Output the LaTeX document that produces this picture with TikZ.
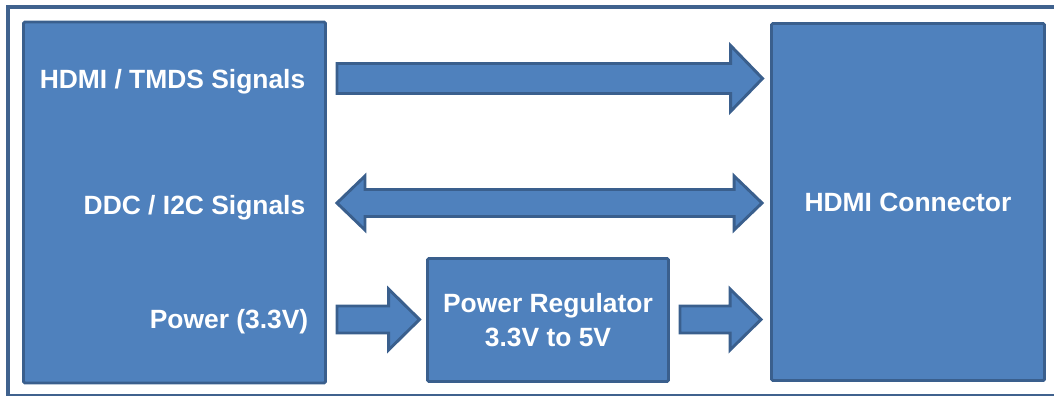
\documentclass[tikz,border=0pt]{standalone}
\usepackage{fontspec}
\setmainfont{Liberation Sans}
\usepackage{tikz}
\usetikzlibrary{calc,positioning}
\definecolor{boxblue}{HTML}{4F81BD}
\definecolor{edgeblue}{HTML}{3A5F8D}
\definecolor{framec}{HTML}{40628E}
\tikzset{
  blk/.style={draw=edgeblue,fill=boxblue,line width=2.2pt,rounded corners=1pt,inner sep=0pt},
  fat/.style={draw=edgeblue,fill=boxblue,line width=2.2pt,line join=miter},
  frame/.style={draw=framec,line width=2.8pt},
  lbl/.style={text=white,font=\fontsize{19.8}{25.5}\selectfont\bfseries},
}

\begin{document}
\begin{tikzpicture}[x=0.75pt,y=-0.75pt]
  \useasboundingbox (0,0) rectangle (1054,396);
  % ---------- frame ----------
  \draw[frame] (8,7) rectangle (1080,395.5);
  % ---------- blocks ----------
  \node[blk,minimum width=226.5pt,minimum height=270.75pt] (src) at (174.5,202.5) {};
  \node[blk,lbl,minimum width=204.75pt,minimum height=267.75pt] (hdmi) at (908,202) {HDMI Connector};
  \node[blk,lbl,align=center,minimum width=180.75pt,minimum height=92.25pt] (reg) at (548,320) {Power Regulator\\3.3V to 5V};
  % ---------- signal rows ----------
  \coordinate (rowa) at (0,78.5);
  \coordinate (rowb) at (0,203);
  \coordinate (rowc) at (0,319.5);
  \node[lbl,anchor=base east] (tmds) at ($(src.east |- rowa)+(-17,10)$) {HDMI / TMDS Signals};
  \node[lbl,anchor=base east] (ddc) at ($(src.east |- rowb)+(-17,11)$) {DDC / I2C Signals};
  \node[lbl,anchor=base east] (pwr) at ($(src.east |- rowc)+(-14,9)$) {Power (3.3V)};
  % ---------- arrows ----------
  \coordinate (a1s) at ($(src.east |- rowa)+(10,0)$);
  \coordinate (a1e) at ($(hdmi.west |- rowa)+(-7.5,0)$);
  \draw[fat] ($(a1s)+(0,-15)$) -- ($(a1e)+(-32,-15)$) -- ($(a1e)+(-32,-33)$) -- (a1e)
    -- ($(a1e)+(-32,33)$) -- ($(a1e)+(-32,15)$) -- ($(a1s)+(0,15)$) -- cycle;
  \coordinate (a2s) at ($(src.east |- rowb)+(10,0)$);
  \coordinate (a2e) at ($(hdmi.west |- rowb)+(-8,0)$);
  \draw[fat] (a2s) -- ($(a2s)+(28,-27)$) -- ($(a2s)+(28,-13.5)$) -- ($(a2e)+(-28,-13.5)$)
    -- ($(a2e)+(-28,-27)$) -- (a2e) -- ($(a2e)+(-28,27)$) -- ($(a2e)+(-28,13.5)$)
    -- ($(a2s)+(28,13.5)$) -- ($(a2s)+(28,27)$) -- cycle;
  \coordinate (a3s) at ($(src.east |- rowc)+(10,0)$);
  \coordinate (a3e) at ($(reg.west |- rowc)+(-6.5,0)$);
  \draw[fat] ($(a3s)+(0,-13.5)$) -- ($(a3e)+(-31,-13.5)$) -- ($(a3e)+(-31,-30.5)$) -- (a3e)
    -- ($(a3e)+(-31,30.5)$) -- ($(a3e)+(-31,13.5)$) -- ($(a3s)+(0,13.5)$) -- cycle;
  \coordinate (a4s) at ($(reg.east |- rowc)+(10,0)$);
  \coordinate (a4e) at ($(hdmi.west |- rowc)+(-9,0)$);
  \draw[fat] ($(a4s)+(0,-13.5)$) -- ($(a4e)+(-31,-13.5)$) -- ($(a4e)+(-31,-30.5)$) -- (a4e)
    -- ($(a4e)+(-31,30.5)$) -- ($(a4e)+(-31,13.5)$) -- ($(a4s)+(0,13.5)$) -- cycle;
\end{tikzpicture}
\end{document}
